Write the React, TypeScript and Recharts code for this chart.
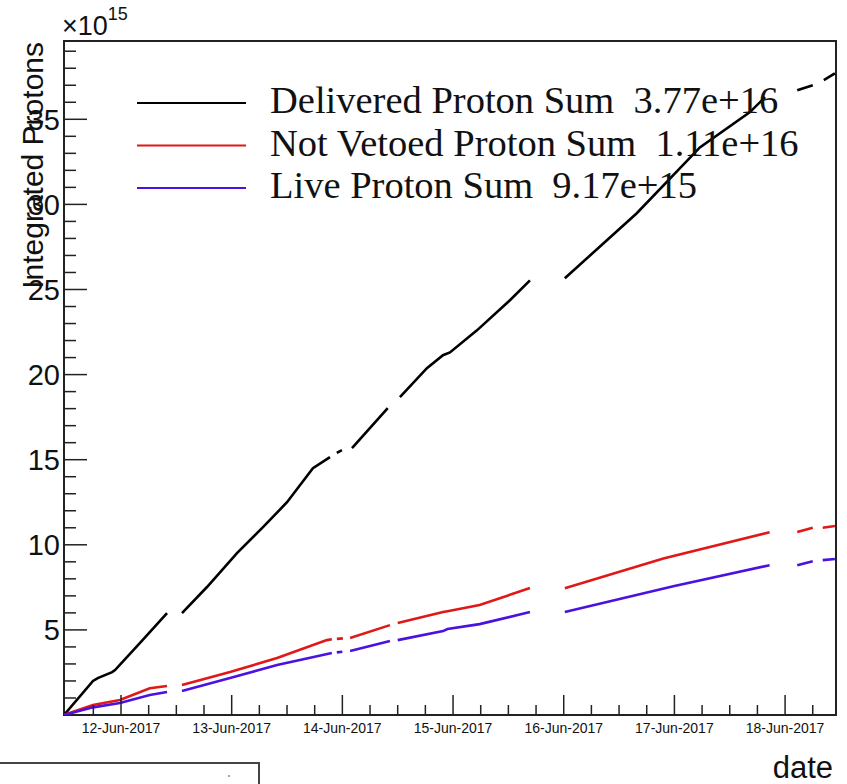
import React from "react";
import { LineChart, Line, XAxis, YAxis, ReferenceArea } from "recharts";

// day of June 2017 (fractional), null = gap in the record
const deliveredDays = [11.485, 11.747, 11.79, 11.92, 11.946, 12.17, 12.416, 12.48, 12.551, 12.777, 13.048, 13.283, 13.5, 13.734, 13.888, 13.92, 13.95, 13.996, 14.04, 14.087, 14.41, 14.46, 14.52, 14.764, 14.909, 14.972, 15.216, 15.514, 15.695, 15.85, 16.01, 16.66, 17.23, 17.68, 17.82, 17.95, 18.11, 18.25, 18.3, 18.35, 18.45];
const deliveredSum = [0, 2.0, 2.17, 2.52, 2.64, 4.23, 5.99, null, 5.99, 7.52, 9.51, 11.04, 12.5, 14.5, 15.15, null, 15.4, 15.56, null, 15.68, 18.03, null, 18.67, 20.38, 21.14, 21.3, 22.6, 24.37, 25.54, null, 25.66, 29.48, 33.35, 35.41, 36.3, null, 36.7, 37.0, null, 37.3, 37.7];

const notVetoedDays = [11.485, 11.747, 11.99, 12.26, 12.416, 12.48, 12.551, 12.985, 13.41, 13.86, 13.905, 13.93, 13.95, 14.005, 14.04, 14.07, 14.43, 14.47, 14.5, 14.91, 14.95, 15.24, 15.695, 15.85, 16.01, 16.9, 17.86, 17.98, 18.11, 18.25, 18.3, 18.34, 18.45];
const notVetoedSum = [0, 0.59, 0.88, 1.57, 1.7, null, 1.76, 2.52, 3.35, 4.4, 4.45, null, 4.47, 4.5, null, 4.52, 5.28, null, 5.4, 6.05, 6.1, 6.46, 7.46, null, 7.45, 9.2, 10.74, null, 10.75, 11.0, null, 11.0, 11.1];

const liveDays = [11.485, 11.747, 11.99, 12.26, 12.416, 12.48, 12.551, 12.985, 13.41, 13.905, 13.93, 13.95, 14.0, 14.04, 14.07, 14.43, 14.47, 14.5, 14.91, 14.95, 15.24, 15.695, 15.85, 16.01, 16.99, 17.86, 17.98, 18.11, 18.25, 18.3, 18.34, 18.45];
const liveSum = [0, 0.45, 0.7, 1.17, 1.35, null, 1.41, 2.17, 2.94, 3.64, null, 3.68, 3.72, null, 3.76, 4.35, null, 4.4, 4.93, 5.05, 5.34, 6.05, null, 6.05, 7.57, 8.8, null, 8.8, 9.04, null, 9.1, 9.17];

const legendLabels = [
  "Delivered Proton Sum  3.77e+16",
  "Not Vetoed Proton Sum  1.11e+16",
  "Live Proton Sum  9.17e+15",
];
const seriesColors = ["#000000", "#e01818", "#4a12e0"];

const xTicks = [11.75, 12, 12.25, 12.5, 12.75, 13, 13.25, 13.5, 13.75, 14, 14.25, 14.5, 14.75, 15, 15.25, 15.5, 15.75, 16, 16.25, 16.5, 16.75, 17, 17.25, 17.5, 17.75, 18, 18.25];
const yTicks = Array.from({ length: 39 }, (_, i) => i + 1);

const X_DOMAIN: [number, number] = [11.485, 18.46];
const Y_DOMAIN: [number, number] = [0, 39.6];

const toPoints = (days: number[], vals: (number | null)[]) =>
  days.map((d, i) => ({ day: d, value: vals[i] }));

const deliveredData = toPoints(deliveredDays, deliveredSum);
const notVetoedData = toPoints(notVetoedDays, notVetoedSum);
const liveData = toPoints(liveDays, liveSum);

const SANS = "'Liberation Sans', Arial, sans-serif";
const SERIF = "'Liberation Serif', 'Times New Roman', serif";

const XTick = (props: any) => {
  const { x, y, payload } = props;
  const major = Number.isInteger(payload.value);
  return (
    <g>
      <line x1={x} x2={x} y1={y} y2={y - (major ? 20 : 10)} stroke="#222" strokeWidth={1.5} />
      {major && (
        <text x={x} y={y + 18} textAnchor="middle" fontSize={14} fontFamily={SANS} fill="#111">
          {`${payload.value}-Jun-2017`}
        </text>
      )}
    </g>
  );
};

const YTick = (props: any) => {
  const { x, y, payload } = props;
  const major = payload.value % 5 === 0;
  return (
    <g>
      <line x1={x} x2={x + (major ? 23 : 12)} y1={y} y2={y} stroke="#222" strokeWidth={1.5} />
      {major && (
        <text x={x - 4} y={y} dy="0.36em" textAnchor="end" fontSize={29} fontFamily={SANS} fill="#111">
          {payload.value}
        </text>
      )}
    </g>
  );
};

export default function App() {
  return (
    <div style={{ position: "absolute", left: 0, top: 0, width: 847, height: 784, background: "#fff" }}>
      <LineChart width={847} height={784} margin={{ top: 41, right: 11, left: 0, bottom: 0 }}>
        <XAxis
          dataKey="day"
          type="number"
          domain={X_DOMAIN}
          allowDataOverflow
          ticks={xTicks}
          interval={0}
          tick={<XTick />}
          tickLine={false}
          tickSize={0}
          tickMargin={0}
          axisLine={false}
          height={69}
        />
        <YAxis
          type="number"
          domain={Y_DOMAIN}
          allowDataOverflow
          ticks={yTicks}
          interval={0}
          tick={<YTick />}
          tickLine={false}
          tickSize={0}
          tickMargin={0}
          axisLine={false}
          width={64}
        />
        <ReferenceArea
          x1={X_DOMAIN[0]}
          x2={X_DOMAIN[1]}
          y1={Y_DOMAIN[0]}
          y2={Y_DOMAIN[1]}
          fill="none"
          stroke="#222"
          strokeWidth={2}
        />
        <Line data={deliveredData} dataKey="value" stroke={seriesColors[0]} strokeWidth={2.6} dot={false} connectNulls={false} isAnimationActive={false} />
        <Line data={notVetoedData} dataKey="value" stroke={seriesColors[1]} strokeWidth={2.6} dot={false} connectNulls={false} isAnimationActive={false} />
        <Line data={liveData} dataKey="value" stroke={seriesColors[2]} strokeWidth={2.6} dot={false} connectNulls={false} isAnimationActive={false} />
      </LineChart>

      <svg width={847} height={784} style={{ position: "absolute", left: 0, top: 0, pointerEvents: "none" }}>
        {/* exponent */}
        <text x={62} y={35} fontSize={27} fontFamily={SANS} fill="#111">
          ×10
          <tspan fontSize={18} dy={-15}>15</tspan>
        </text>
        {/* y title */}
        <text
          x={43}
          y={42}
          transform="rotate(-90, 43, 42)"
          textAnchor="end"
          fontSize={30}
          fontFamily={SANS}
          fill="#111"
        >
          Integrated Protons
        </text>
        {/* x title */}
        <text x={833} y={778} textAnchor="end" fontSize={31} fontFamily={SANS} fill="#111">
          date
        </text>
        {/* legend */}
        {legendLabels.map((label, i) => (
          <g key={label}>
            <line x1={137} x2={246} y1={103 + i * 42.5} y2={103 + i * 42.5} stroke={seriesColors[i]} strokeWidth={2} />
            <text x={270} y={113 + i * 42.5} fontSize={38.5} fontFamily={SERIF} fill="#111" style={{ whiteSpace: "pre" }}>
              {label}
            </text>
          </g>
        ))}
        {/* stray box from neighbouring pad */}
        <rect x={-2} y={763} width={261} height={40} fill="none" stroke="#444" strokeWidth={2} />
        <circle cx={229} cy={776} r={1} fill="#888" />
      </svg>
    </div>
  );
}
